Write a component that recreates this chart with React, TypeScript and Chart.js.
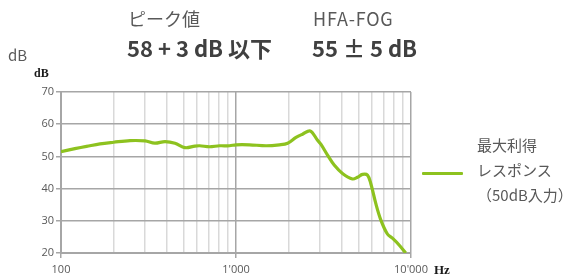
import React, { useEffect, useRef } from "react";
import { Chart, registerables } from "chart.js";

Chart.register(...registerables);

const frequencies = [100, 120, 140, 167, 200, 248, 302, 344, 393, 448, 511, 583, 620, 706, 805, 918, 1000, 1194, 1486, 1770, 1973, 2203, 2400, 2655, 2924, 3053, 3334, 3640, 4060, 4630, 4945, 5280, 5640, 5890, 6290, 6720, 7330, 7830, 8550, 9330];
const responseDb = [51.5, 52.4, 53.1, 53.9, 54.4, 54.9, 54.8, 54.1, 54.6, 54.1, 52.7, 53.2, 53.3, 53.0, 53.3, 53.3, 53.6, 53.6, 53.3, 53.6, 54.1, 55.9, 56.9, 57.9, 55.0, 53.8, 50.4, 47.3, 44.7, 43.0, 43.5, 44.4, 44.2, 41.6, 35.4, 30.3, 25.9, 24.6, 22.5, 20.0];
const xMajorTicks = [100, 1000, 10000];
const xTickLabels = ["100", "1'000", "10'000"];
const yTicks = [20, 30, 40, 50, 60, 70];
const seriesLabel = ["最大利得", "レスポンス", "（50dB入力）"];
const titleLabels = ["ピーク値", "HFA-FOG"];
const titleValues = ["58 + 3 dB 以下", "55 ± 5 dB"];

const GREEN = "#8dc21f";
const TEXT = "#595959";
const SANS = "'Noto Sans CJK JP', 'Noto Sans', sans-serif";

function isMajor(v: number) {
  return xMajorTicks.some((m) => Math.abs(m - v) < 1e-6);
}

export default function App() {
  const ref = useRef<HTMLCanvasElement>(null);

  useEffect(() => {
    if (!ref.current) return;
    const chart = new Chart(ref.current, {
      type: "line",
      data: {
        datasets: [
          {
            label: seriesLabel.join(""),
            data: frequencies.map((f, i) => ({ x: f, y: responseDb[i] })),
            borderColor: GREEN,
            borderWidth: 3.2,
            pointRadius: 0,
            tension: 0.35,
            fill: false,
          },
        ],
      },
      options: {
        animation: false,
        responsive: false,
        maintainAspectRatio: false,
        layout: { padding: { left: 0, top: 92, right: 157, bottom: 0 } },
        plugins: { legend: { display: false }, tooltip: { enabled: false } },
        scales: {
          x: {
            type: "logarithmic",
            min: 100,
            max: 10000,
            afterFit: (s: any) => {
              s.height = 24;
            },
            afterBuildTicks: (s: any) => {
              const t: any[] = [];
              for (let d = 100; d < 10000; d *= 10) {
                for (let k = 1; k < 10; k++) t.push({ value: d * k, major: k === 1 });
              }
              t.push({ value: 10000, major: true });
              s.ticks = t;
            },
            ticks: {
              autoSkip: false,
              maxRotation: 0,
              color: TEXT,
              font: { family: "'Open Sans', sans-serif", size: 11 },
              padding: 5,
              callback: (v: any) => {
                const i = xMajorTicks.findIndex((m) => Math.abs(m - Number(v)) < 1e-6);
                return i >= 0 ? xTickLabels[i] : "";
              },
            },
            grid: {
              color: (ctx: any) => (ctx.tick && isMajor(ctx.tick.value) ? "#a6a6a6" : "#d9d9d9"),
              lineWidth: 1.5,
              tickLength: 5,
              tickColor: (ctx: any) => (ctx.tick && isMajor(ctx.tick.value) ? "#a6a6a6" : "rgba(0,0,0,0)"),
            },
            border: { color: "#a6a6a6", width: 2 },
          },
          y: {
            min: 20,
            max: 70,
            afterFit: (s: any) => {
              s.width = 61;
            },
            afterBuildTicks: (s: any) => {
              s.ticks = yTicks.map((v) => ({ value: v }));
            },
            ticks: {
              color: TEXT,
              font: { family: "'Open Sans', sans-serif", size: 11 },
              padding: 2,
            },
            grid: { color: "#a6a6a6", lineWidth: 1.5, tickLength: 5 },
            border: { color: "#a6a6a6", width: 2 },
          },
        },
      },
    });
    return () => chart.destroy();
  }, []);

  const abs = (s: React.CSSProperties): React.CSSProperties => ({ position: "absolute", whiteSpace: "nowrap", ...s });

  return (
    <div style={{ position: "absolute", left: 0, top: 0, width: 568, height: 277, background: "#fff", overflow: "hidden" }}>
      <canvas ref={ref} width={568} height={277} style={{ position: "absolute", left: 0, top: 0, width: 568, height: 277 }} />
      <div style={abs({ left: 128, top: 5, fontFamily: SANS, fontSize: 18, color: TEXT, lineHeight: "26px" })}>{titleLabels[0]}</div>
      <div style={abs({ left: 313, top: 5, fontFamily: SANS, fontSize: 18, color: TEXT, lineHeight: "26px", letterSpacing: 0.8 })}>{titleLabels[1]}</div>
      <div style={abs({ left: 127, top: 31, fontFamily: SANS, fontSize: 22, fontWeight: 700, color: "#404040", lineHeight: "32px" })}>{titleValues[0]}</div>
      <div style={abs({ left: 312, top: 31, fontFamily: SANS, fontSize: 22, fontWeight: 700, color: "#404040", lineHeight: "32px" })}>{titleValues[1]}</div>
      <div style={abs({ left: 8, top: 44, fontFamily: SANS, fontSize: 15, color: TEXT, lineHeight: "22px" })}>dB</div>
      <div style={abs({ left: 34, top: 66, fontFamily: "'Liberation Serif', serif", fontSize: 12, fontWeight: 700, color: "#1a1a1a", lineHeight: "14px" })}>dB</div>
      <div style={abs({ left: 434, top: 262, fontFamily: "'Liberation Serif', serif", fontSize: 13, fontWeight: 700, color: "#1a1a1a", lineHeight: "16px" })}>Hz</div>
      <div style={abs({ left: 422, top: 172, width: 41, height: 3, background: GREEN, borderRadius: 1 })} />
      <div style={abs({ left: 477, top: 132, fontFamily: SANS, fontSize: 15, color: TEXT, lineHeight: "25px" })}>
        <div>{seriesLabel[0]}</div>
        <div>{seriesLabel[1]}</div>
        <div>{seriesLabel[2]}</div>
      </div>
    </div>
  );
}
